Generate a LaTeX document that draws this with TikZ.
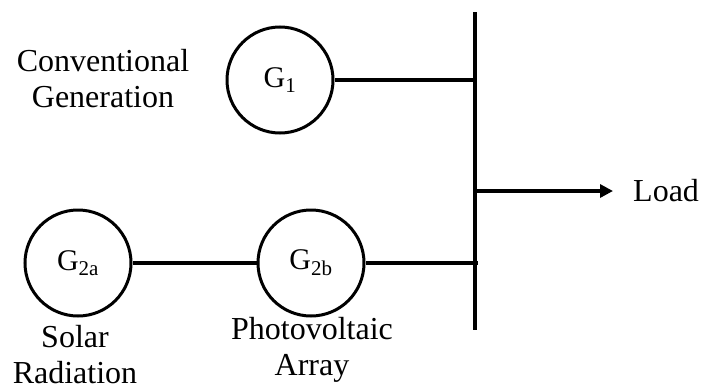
\documentclass[tikz,border=0pt]{standalone}
\usepackage{fontspec}
\setmainfont{Liberation Serif}
\usetikzlibrary{arrows.meta}
\begin{document}
\begin{tikzpicture}[x=1pt,y=-1pt,
  gen/.style={circle,draw,line width=3pt,minimum size=106pt,inner sep=0pt,font=\fontsize{30}{34}\selectfont},
  lbl/.style={align=center,inner sep=0pt,font=\fontsize{32}{36}\selectfont},
  wire/.style={line width=3.2pt}]
\useasboundingbox (0,0) rectangle (703,391);
\node[gen] (g1) at (280,80) {G\textsubscript{1}};
\node[gen] (g2a) at (78,263) {G\textsubscript{2a}};
\node[gen] (g2b) at (311,263) {G\textsubscript{2b}};
\coordinate (bustop) at (475,12);
\coordinate (busbot) at (475,330);
\coordinate (j1) at (475,80);
\coordinate (j2) at (475,191);
\coordinate (j3) at (478,263);
\draw[wire] (bustop) -- (busbot);
\draw[wire] (g1.east) -- (j1);
\draw[wire] (g2a.east) -- (g2b.west);
\draw[wire] (g2b.east) -- (j3);
\node[lbl,anchor=west] (load) at (633,191) {Load};
\draw[wire,-{Triangle[length=13pt,width=13pt]},shorten >=20pt] (j2) -- (load.west);
\node[lbl] (conv) at (103,79) {Conventional\\Generation};
\node[lbl] (solar) at (75,355) {Solar\\Radiation};
\node[lbl] (pv) at (312,350) {Photovoltaic\\Array};
\end{tikzpicture}
\end{document}
